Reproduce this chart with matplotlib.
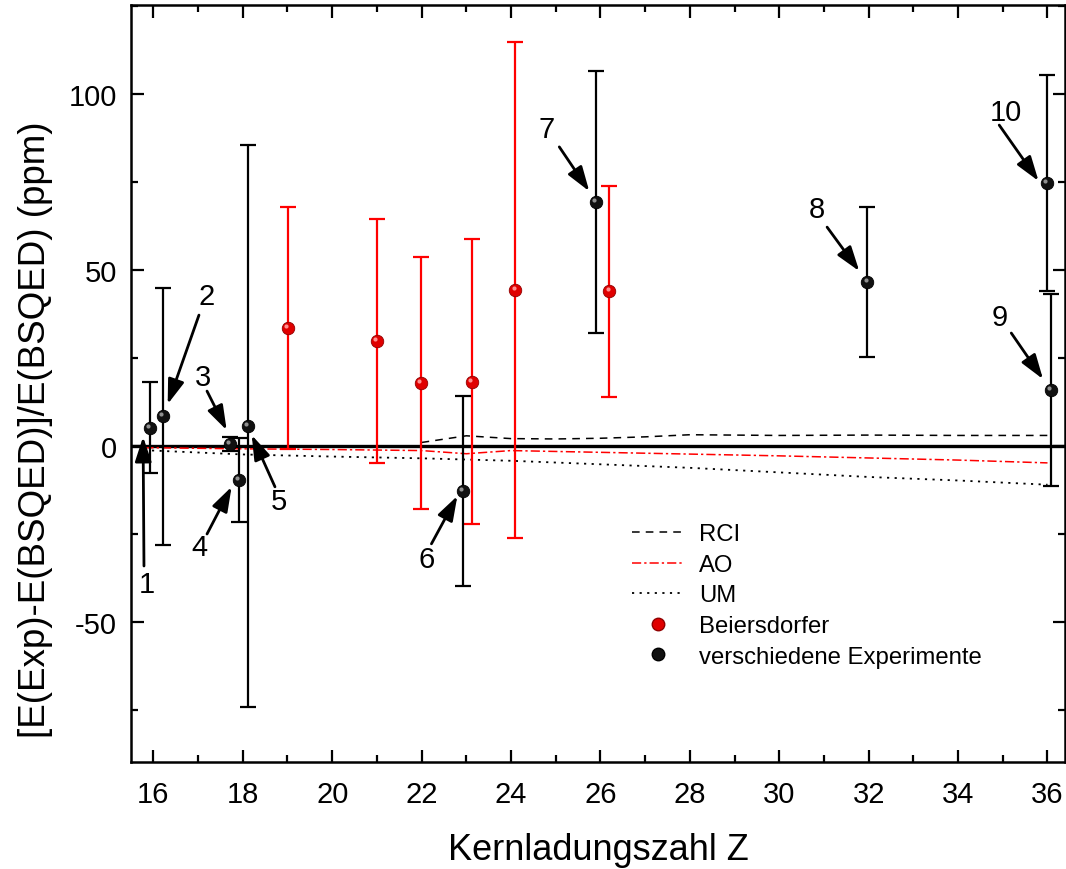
import numpy as np
import matplotlib
matplotlib.use('Agg')
import matplotlib.pyplot as plt
from matplotlib.lines import Line2D
from matplotlib.transforms import offset_copy

plt.rcParams['font.family'] = ['Liberation Sans', 'DejaVu Sans']
plt.rcParams['axes.unicode_minus'] = False

# Beiersdorfer (rot)
beier_z = [19.01, 21.0, 21.98, 23.12, 24.1, 26.2]
beier_y = [33.5, 29.8, 17.9, 18.2, 44.3, 44.0]
beier_err = [34.4, 34.7, 35.8, 40.5, 70.5, 30.0]

# verschiedene Experimente (schwarz), Nummern 1..10
exp_z = [15.92, 16.21, 17.71, 17.91, 18.11, 22.92, 25.89, 31.97, 36.08, 35.99]
exp_y = [5.2, 8.5, 0.6, -9.7, 5.6, -12.7, 69.3, 46.6, 15.9, 74.7]
exp_err = [13.0, 36.5, 2.0, 12.0, 79.8, 27.0, 37.2, 21.3, 27.3, 30.7]

# Theorie-Kurven
rci_z = [22, 23, 24, 25, 26, 27, 28, 30, 32, 34, 36]
rci_y = [1.0, 2.9, 2.1, 2.0, 2.2, 2.6, 3.2, 3.0, 3.1, 3.0, 3.0]
ao_z = [15.8, 16, 18, 20, 22, 23, 24, 26, 28, 30, 32, 34, 36]
ao_y = [-0.5, -0.5, -0.8, -1.0, -1.3, -2.2, -1.3, -1.8, -2.3, -2.8, -3.4, -4.0, -4.8]
um_z = [15.8, 16, 18, 20, 22, 24, 26, 28, 30, 32, 34, 36]
um_y = [-1.2, -1.3, -2.4, -3.0, -3.5, -4.2, -5.2, -6.2, -7.5, -8.8, -9.8, -11.0]

# Pfeile: Label, Textposition, Pfeilanfang, Pfeilspitze
labels = ['1', '2', '3', '4', '5', '6', '7', '8', '9', '10']
text_pos = [(15.85, -39.2), (17.2, 42.6), (17.1, 19.6), (17.02, -28.7), (18.8, -15.6),
            (22.11, -32.1), (24.79, 90.0), (30.85, 67.3), (34.94, 36.6), (35.07, 94.9)]
arrow_tail = [(15.79, -34.1), (17.02, 37.2), (17.2, 15.6), (17.2, -25.0), (18.72, -11.6),
              (22.22, -27.8), (25.08, 85.0), (31.07, 62.2), (35.19, 32.1), (34.92, 91.2)]
arrow_tip = [(15.77, 2.6), (16.32, 11.9), (17.64, 4.5), (17.75, -11.6), (18.2, 3.1),
             (22.8, -14.2), (25.75, 72.4), (31.79, 49.7), (35.9, 19.0), (35.8, 75.3)]

fig = plt.figure(figsize=(10.66, 8.7), dpi=100)
ax = fig.add_axes([0.1229, 0.123, 0.8761, 0.870])

ax.axhline(0, color='black', lw=2.4, zorder=2)

ax.plot(rci_z, rci_y, color='black', ls=(0, (5, 4)), lw=1.1, zorder=2)
ax.plot(ao_z, ao_y, color='red', ls=(0, (6, 2, 1.5, 2)), lw=1.1, zorder=2)
ax.plot(um_z, um_y, color='black', ls=(0, (1.2, 3)), lw=1.3, zorder=2)

ax.errorbar(beier_z, beier_y, yerr=beier_err, fmt='none', ecolor='red',
            elinewidth=1.6, capsize=6, capthick=1.6, zorder=3)
ax.errorbar(exp_z, exp_y, yerr=exp_err, fmt='none', ecolor='black',
            elinewidth=1.6, capsize=6, capthick=1.6, zorder=3)

# Kugel-Marker mit Glanzpunkt
hl = offset_copy(ax.transData, fig=fig, x=-1.3, y=1.3, units='points')
ax.plot(beier_z, beier_y, 'o', ms=9, color='#e00000', mec='#900000', mew=0.6, zorder=4)
ax.plot(beier_z, beier_y, 'o', ms=3, color='#ff9090', mew=0, zorder=5, transform=hl)
ax.plot(exp_z, exp_y, 'o', ms=9, color='#111111', mec='black', mew=0.6, zorder=4)
ax.plot(exp_z, exp_y, 'o', ms=3, color='#909090', mew=0, zorder=5, transform=hl)

for lab, tp, tail, tip in zip(labels, text_pos, arrow_tail, arrow_tip):
    ax.annotate('', xy=tip, xytext=tail,
                arrowprops=dict(arrowstyle='-|>,head_length=0.75,head_width=0.25',
                                color='black', lw=2.0,
                                mutation_scale=20, shrinkA=0, shrinkB=0),
                zorder=6)
    ax.text(tp[0], tp[1], lab, fontsize=21, ha='center', va='center', zorder=6)

ax.set_xlim(15.5, 36.39)
ax.set_ylim(-89.8, 125.3)
ax.set_xticks(range(16, 37, 2))
ax.set_xticks(range(17, 37, 2), minor=True)
ax.set_yticks([-50, 0, 50, 100])
ax.set_yticks([-75, -25, 25, 75, 125], minor=True)

ax.tick_params(which='both', direction='in', top=True, right=True, labelsize=21, width=1.6)
ax.tick_params(which='major', length=9, pad=10)
ax.tick_params(axis='x', which='major', pad=13)
ax.tick_params(which='minor', length=5)
for sp in ax.spines.values():
    sp.set_linewidth(1.8)

ax.set_xlabel('Kernladungszahl Z', fontsize=26, labelpad=17)
ax.set_ylabel('[E(Exp)-E(BSQED)]/E(BSQED) (ppm)', fontsize=26.5)
ax.yaxis.set_label_coords(-0.083, 0.44)

handles = [
    Line2D([], [], color='black', ls=(0, (5, 4)), lw=1.1),
    Line2D([], [], color='red', ls=(0, (6, 2, 1.5, 2)), lw=1.1),
    Line2D([], [], color='black', ls=(0, (1.2, 3)), lw=1.3),
    Line2D([], [], ls='none', marker='o', ms=9, color='#e00000', mec='#900000'),
    Line2D([], [], ls='none', marker='o', ms=9, color='#111111', mec='black'),
]
names = ['RCI', 'AO', 'UM', 'Beiersdorfer', 'verschiedene Experimente']
ax.legend(handles, names, loc='upper left', bbox_to_anchor=(0.526, 0.328),
          frameon=False, fontsize=17.2, handlelength=2.2, handletextpad=0.6,
          labelspacing=0.36, borderaxespad=0)

fig.savefig('out.png', dpi=100)
